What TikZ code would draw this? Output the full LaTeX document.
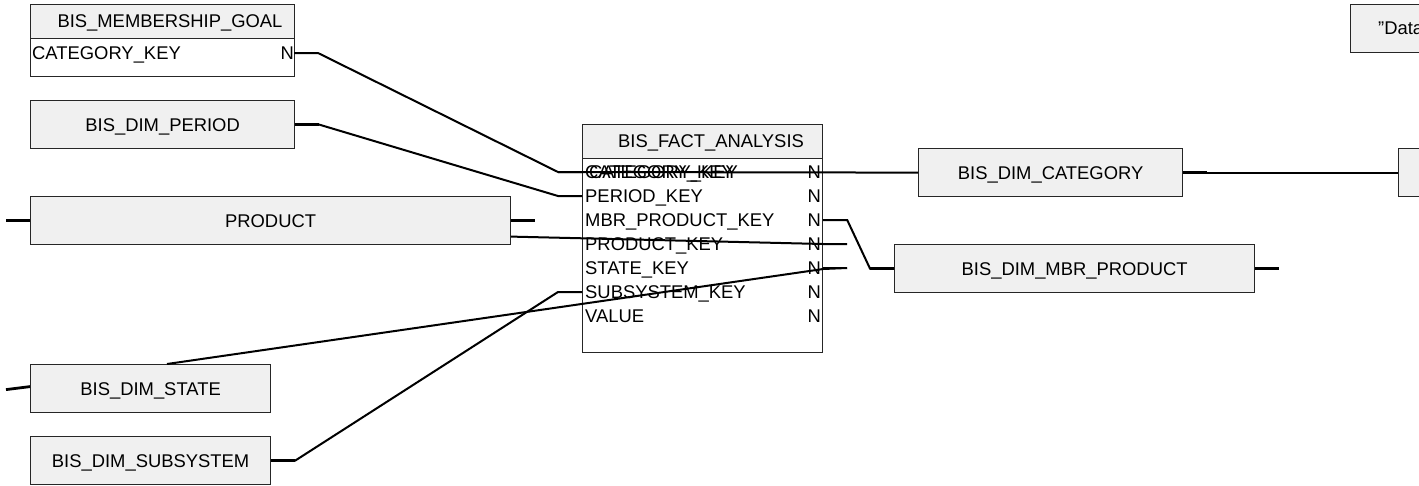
\documentclass[tikz,border=0pt]{standalone}
\usepackage{fontspec}
\setmainfont{Liberation Sans}
\usetikzlibrary{calc}
\begin{document}
\begin{tikzpicture}[x=1pt,y=-1pt,
  every node/.style={font=\fontsize{18.4}{22}\selectfont, inner sep=0pt, text height=13.2pt, text depth=0pt},
  box/.style={draw=black!85, line width=1.2pt, fill=gray!12, anchor=north west, minimum height=48pt},
  tbl/.style={draw=black!85, line width=1.2pt, fill=white, anchor=north west},
  hdr/.style={draw=black!85, line width=1.2pt, fill=gray!12, anchor=north west, minimum height=34pt},
  lbl/.style={anchor=west},
  nn/.style={anchor=east},
  conn/.style={line width=2pt, black},
  stub/.style={line width=2.8pt, black}]
\useasboundingbox (0,0) rectangle (1419,485);
\clip (0,0) rectangle (1419,485);

% BIS_MEMBERSHIP_GOAL table
\node[tbl, minimum width=264pt, minimum height=72pt] (mg) at (30,4) {};
\node[hdr, minimum width=264pt] (mgh) at (30,4) {};
\node (mgt) at (170,21) {BIS\_MEMBERSHIP\_GOAL};
\node[lbl] (mgr) at (32,53) {CATEGORY\_KEY};
\node[nn] (mgn) at (294,53) {N};

% simple boxes
\node[box, minimum width=264pt] (period) at (30,100) {BIS\_DIM\_PERIOD};
\node[box, minimum width=480pt] (prod) at (30,196) {PRODUCT};
\node[box, minimum width=240pt] (state) at (30,364) {BIS\_DIM\_STATE};
\node[box, minimum width=240pt] (sub) at (30,436) {BIS\_DIM\_SUBSYSTEM};
\node[box, minimum width=264pt] (cat) at (918,148) {BIS\_DIM\_CATEGORY};
\node[box, minimum width=360pt] (mbr) at (894,244) {BIS\_DIM\_MBR\_PRODUCT};
\node[box, minimum width=264pt] (rbox) at (1398,148) {};
\node[box, minimum width=200pt] (dbox) at (1350,4) {};
\node[lbl] (dtxt) at (1378,28) {\symbol{34}Data};

% BIS_FACT_ANALYSIS table
\node[tbl, minimum width=240pt, minimum height=228pt] (fact) at (582,124) {};
\node[hdr, minimum width=240pt] (facth) at (582,124) {};
\node (factt) at (711,141) {BIS\_FACT\_ANALYSIS};
\node[lbl] (r1) at (585,172) {CATEGORY\_KEY};
\node[lbl] (r1b) at (589,172) {CATEGORY\_KEY};
\node[lbl] (r2) at (585,196) {PERIOD\_KEY};
\node[lbl] (r3) at (585,220) {MBR\_PRODUCT\_KEY};
\node[lbl] (r4) at (585,244) {PRODUCT\_KEY};
\node[lbl] (r5) at (585,268) {STATE\_KEY};
\node[lbl] (r6) at (585,292) {SUBSYSTEM\_KEY};
\node[lbl] (r7) at (585,316) {VALUE};
\foreach \r in {1,...,7} {\node[nn] (n\r) at (821,0 |- r\r) {N};}

\coordinate (fw1) at (fact.west |- r1);
\coordinate (fw2) at (fact.west |- r2);
\coordinate (fw6) at (fact.west |- r6);
\coordinate (fe3) at (fact.east |- r3);
\coordinate (fe4) at (fact.east |- r4);
\coordinate (fe5) at (fact.east |- r5);

% connectors
\draw[conn] (mgn.east) -- ++(24,0) -- ($(fw1)+(-24,0)$) -- (fw1);
\draw[conn] (period.east) -- ++(24,0) -- ($(fw2)+(-24,0)$) -- (fw2);
\draw[stub] (period.east) -- ++(24,0);
\draw[conn] (cat.west) -- ($(fw1)+(-24,0)$);
\draw[conn] (cat.east) -- (rbox.west);
\draw[stub] (cat.east) -- ++(24,0);
\draw[conn] (fe3) -- ++(24,0) -- ($(mbr.west)+(-24,0)$) -- (mbr.west);
\draw[stub] ($(mbr.west)+(-24,0)$) -- (mbr.west);
\draw[stub] (mbr.east) -- ++(24,0);
\coordinate (pe) at ($(prod.east)+(0,16)$);
\draw[conn] (pe) -- (fe4) -- ++(24,0);
\draw[stub] (fe4) -- ++(24,0);
\draw[stub] (prod.west) -- ++(-24,0);
\draw[stub] (prod.east) -- ++(24,0);
\coordinate (sn) at ($(state.north west)+(137,0)$);
\draw[conn] (sn) -- ($(fe5)+(0,1)$) -- ++(24,-1);
\draw[stub] (fe5) -- ++(24,0);
\draw[stub] ($(state.west)+(0,-2)$) -- ++(-24,3);
\draw[conn] (sub.east) -- ++(24,0) -- ($(fw6)+(-24,0)$) -- (fw6);
\draw[stub] (sub.east) -- ++(24,0);
\end{tikzpicture}
\end{document}
